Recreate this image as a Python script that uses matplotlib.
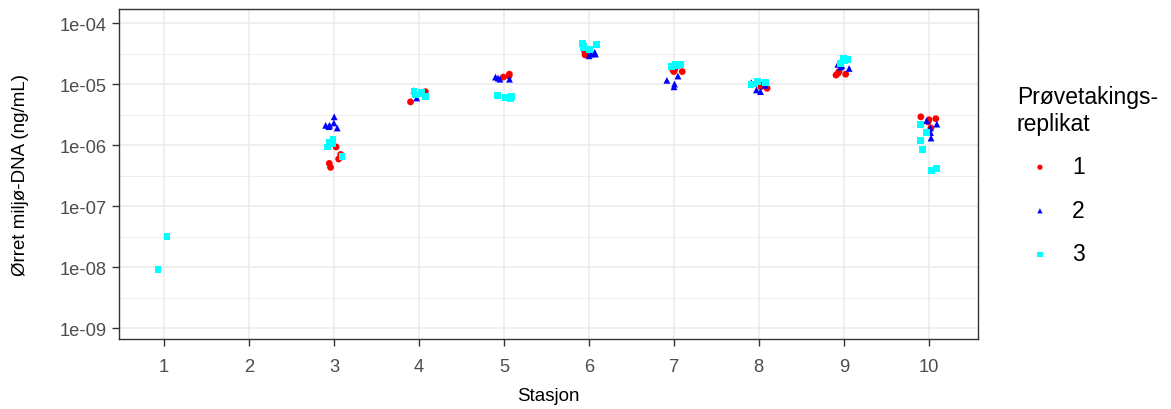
import matplotlib
matplotlib.use("Agg")
import matplotlib.pyplot as plt
import numpy as np

plt.rcParams['font.family'] = ['Liberation Sans', 'DejaVu Sans']

# eDNA concentration (ng/mL) per station, one dict per sampling replicate
rep1 = {3: [9.3e-7, 7e-7, 5.9e-7, 5e-7, 4.3e-7],
        4: [7.5e-6, 5.1e-6],
        5: [1.45e-5, 1.35e-5, 1.3e-5],
        6: [3.3e-5, 3.0e-5, 3.4e-5],
        7: [1.7e-5, 1.6e-5, 1.75e-5, 1.6e-5],
        8: [1e-5, 9e-6, 8.5e-6],
        9: [1.6e-5, 1.5e-5, 1.45e-5, 1.4e-5],
        10: [2.9e-6, 2.6e-6, 2.4e-6, 2.7e-6, 1.9e-6]}
rep2 = {3: [2.9e-6, 2.3e-6, 2.1e-6, 2.1e-6, 2.0e-6, 1.9e-6],
        4: [7.8e-6, 5.9e-6],
        5: [1.3e-5, 1.2e-5, 1.25e-5, 1.2e-5],
        6: [3.1e-5, 2.9e-5, 3.3e-5, 3.1e-5],
        7: [1.35e-5, 1.15e-5, 1e-5, 9e-6],
        8: [9.5e-6, 8e-6, 7.5e-6, 1.05e-5],
        9: [2e-5, 1.9e-5, 2.1e-5, 1.8e-5],
        10: [2.5e-6, 2.2e-6, 1.9e-6, 1.6e-6, 1.3e-6]}
rep3 = {1: [3.2e-8, 9e-9],
        3: [1.25e-6, 1.1e-6, 1.05e-6, 9.3e-7, 6.4e-7],
        4: [7.5e-6, 7e-6, 6.6e-6, 6.2e-6, 7.2e-6],
        5: [6.5e-6, 6e-6, 6.2e-6, 5.8e-6, 6e-6],
        6: [4.6e-5, 4.0e-5, 4.4e-5, 3.7e-5, 4.2e-5],
        7: [2.1e-5, 2e-5, 2.1e-5, 1.95e-5],
        8: [1.1e-5, 1e-5, 9.8e-6, 1.05e-5],
        9: [2.6e-5, 2.4e-5, 2.2e-5, 2.5e-5],
        10: [2.2e-6, 1.6e-6, 1.2e-6, 8.5e-7, 4.1e-7, 3.8e-7]}

stations = list(range(1, 11))
rep_labels = ["1", "2", "3"]
rep_colors = ["#FF0000", "#0000FF", "#00FFFF"]
rep_markers = ["o", "^", "s"]
ytick_labels = ["1e-09", "1e-08", "1e-07", "1e-06", "1e-05", "1e-04"]

fig = plt.figure(figsize=(11.71, 4.10), dpi=100)
ax = fig.add_axes([119/1171, 1-340/410, (978-119)/1171, (340-10)/410])

rng = np.random.default_rng(7)  # horizontal jitter, like geom_jitter
for rep, lab, col, mk in zip([rep1, rep2, rep3], rep_labels, rep_colors, rep_markers):
    xs, ys = [], []
    for st, vals in rep.items():
        xs += list(st + rng.uniform(-0.1, 0.1, len(vals)))
        ys += vals
    ax.scatter(xs, ys, s=24, marker=mk, color=col, edgecolors='none', label=lab, zorder=3)

ax.set_yscale('log')
yt = [10.0**e for e in range(-9, -3)]
ax.set_yticks(yt)
ax.set_yticklabels(ytick_labels)
ax.set_yticks([10**(e + 0.5) for e in range(-10, -3)], minor=True)
ax.yaxis.set_minor_formatter(matplotlib.ticker.NullFormatter())
ax.set_xticks(stations)
ax.set_xticklabels([str(s) for s in stations])
# limits after ticks, so the ticks do not widen them
ax.set_ylim(10**-9.18, 10**-3.77)
ax.set_xlim(0.47, 10.58)

ax.grid(True, which='major', color='#EBEBEB', lw=1.1, zorder=0)
ax.grid(True, which='minor', axis='y', color='#EBEBEB', lw=0.6, zorder=0)
ax.set_axisbelow(True)
for sp in ax.spines.values():
    sp.set_color('#333333')
    sp.set_linewidth(1.0)
ax.tick_params(which='major', colors='#333333', labelcolor='#4D4D4D', labelsize=13.2,
               length=5, width=1, pad=4)
ax.tick_params(axis='x', which='major', pad=9)
ax.tick_params(which='minor', length=0)

ax.set_xlabel("Stasjon", fontsize=13.5, labelpad=8)
ax.set_ylabel("Ørret miljø-DNA (ng/mL)", fontsize=13.5, labelpad=22)

leg = fig.legend(loc='upper left', bbox_to_anchor=(1017/1171, 1-86/410), frameon=False,
                 title="Prøvetakings-\nreplikat", fontsize=16.5, title_fontsize=16.5,
                 labelspacing=0.9, handletextpad=0.4, handlelength=2.0, borderpad=0,
                 borderaxespad=0, alignment='left')
for h in leg.legend_handles:
    h.set_sizes([14])

fig.savefig("out.png", dpi=100)
